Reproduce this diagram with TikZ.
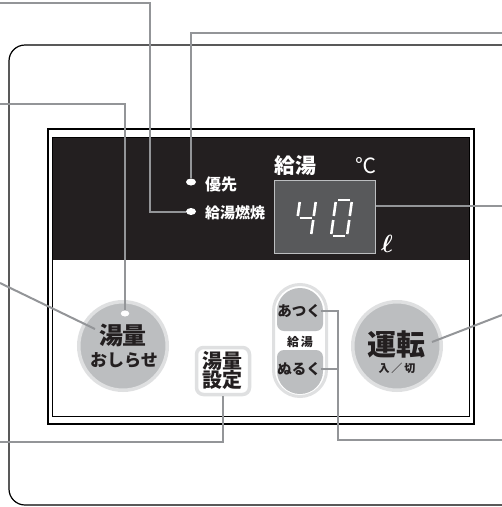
\documentclass[tikz,border=0pt]{standalone}
\usepackage{fontspec}
\newfontfamily\jp{Noto Sans CJK JP}
\usetikzlibrary{shapes.geometric}
\definecolor{band}{HTML}{231F20}
\definecolor{lead}{HTML}{939598}
\definecolor{btn}{HTML}{BCBEC0}
\definecolor{rim}{HTML}{DFE0E1}
\definecolor{disp}{HTML}{58595B}
\newcommand\segdx{295}
\newcommand\sseg[4]{\draw[segline] ({\segdx+#1+0.139*#2},{236-#2}) -- ({\segdx+#3+0.139*#4},{236-#4});}
\begin{document}
\begin{tikzpicture}[x=1pt,y=-1pt,
  leader/.style={draw=lead,line width=2pt},
  lbl/.style={font=\jp\bfseries,inner sep=0pt,text=band},
  wlbl/.style={font=\jp\bfseries,inner sep=0pt,text=white},
  segline/.style={draw=white,line width=2.6pt},
  ledstyle/.style={ellipse,fill=white,inner sep=0pt,minimum width=10pt,minimum height=7pt},
  roundbtn/.style={circle,fill=btn,draw=rim,line width=3.5pt,minimum size=88.5pt,inner sep=0pt}
]
\useasboundingbox (0,0) rectangle (502,507);
\clip (0,0) rectangle (502,507);
% outer panel
\draw[line width=1.2pt,rounded corners=16pt] (9,45) rectangle (517,505);
% frame
\draw[line width=1.3pt,fill=white] (48,129) rectangle (474,424);
\fill[band] (52,137) rectangle (469,260);
\draw[line width=0.8pt] (52,137) rectangle (469,416);
% display
\node[draw=btn,fill=disp,line width=0.8pt,minimum width=101pt,minimum height=73pt,inner sep=0pt,anchor=north west] (disp) at (274,180) {};
\renewcommand\segdx{295}
\sseg{0}{20}{0}{34}\sseg{2}{18}{14}{18}\sseg{16}{34}{16}{20}\sseg{16}{16}{16}{2}
\renewcommand\segdx{331}
\sseg{2}{36}{14}{36}\sseg{16}{34}{16}{20}\sseg{16}{16}{16}{2}
\sseg{2}{0}{14}{0}\sseg{0}{2}{0}{16}\sseg{0}{20}{0}{34}
\node[wlbl,font=\jp\bfseries\fontsize{21}{21}\selectfont] (kyuto) at (295,166) {給湯};
\node[wlbl,font=\jp\fontsize{21}{21}\selectfont] (deg) at (366,166) {℃};
\node[wlbl,font=\fontsize{23}{23}\selectfont\boldmath] (litre) at (387,244) {$\ell$};
% LEDs
\node[ledstyle] (ledA) at (191,182) {};
\node[ledstyle] (ledB) at (191,211.5) {};
\node[wlbl,anchor=west,font=\jp\bfseries\fontsize{16}{16}\selectfont] (yusen) at (205,184) {優先};
\node[wlbl,anchor=west,font=\jp\bfseries\fontsize{15}{15}\selectfont] (nensho) at (205,213) {給湯燃焼};
% oshirase button
\node[roundbtn] (oshirase) at (123,346) {};
\node[ledstyle,minimum width=8.5pt,minimum height=6pt] (ledC) at (125,313.5) {};
\node[lbl,font=\jp\bfseries\fontsize{24}{24}\selectfont] (yuryoA) at (123,335) {湯量};
\node[lbl,font=\jp\bfseries\fontsize{17}{17}\selectfont] (oshiraseT) at (124,360) {おしらせ};
% unten button
\node[roundbtn] (unten) at (397,346) {};
\node[lbl,font=\jp\bfseries\fontsize{29}{29}\selectfont] (untenT) at (396,344) {運転};
\node[lbl,font=\jp\bfseries\fontsize{11}{11}\selectfont] (irikiri) at (397,368) {入\,／\,切};
% settei button
\node[draw=rim,fill=white,line width=3.5pt,rounded corners=7pt,minimum width=53pt,minimum height=47pt,inner sep=0pt] (setbtn) at (223,371) {};
\node[lbl,font=\jp\bfseries\fontsize{20}{20}\selectfont] (yuryoB) at (222,361) {湯量};
\node[lbl,font=\jp\bfseries\fontsize{20}{20}\selectfont] (settei) at (222,380) {設定};
% pill
\draw[draw=rim,line width=3pt,fill=white,rounded corners=26.5pt] (273.5,284.5) rectangle (326.5,396.5);
\begin{scope}
\clip[rounded corners=23pt] (277,288) rectangle (323,394);
\fill[btn,rounded corners=7pt] (277,270) rectangle (323,331);
\fill[btn,rounded corners=7pt] (277,350) rectangle (323,412);
\end{scope}
\node[lbl,font=\jp\bfseries\fontsize{14.5}{14.5}\selectfont] (atsuku) at (299,311) {あつく};
\node[lbl,font=\jp\bfseries\fontsize{12}{12}\selectfont] (kyutoB) at (300,342) {給\,湯};
\node[lbl,font=\jp\bfseries\fontsize{14.5}{14.5}\selectfont] (nuruku) at (299,369) {ぬるく};
% leader coordinates
\coordinate (s1) at (0,3);
\coordinate (b1) at (150,3);
\coordinate (s2) at (502,33);
\coordinate (s3) at (0,104);
\coordinate (s4) at (0,283);
\coordinate (e4) at (95,329);
\coordinate (s5) at (0,442);
\coordinate (j6) at (338,440);
\coordinate (s6) at (502,440);
\coordinate (s7) at (502,206);
\coordinate (s8) at (502,315);
\coordinate (e8) at (432,342);
% leaders
\draw[leader] (s1) -- (b1) |- (ledB.west);
\draw[leader] (s2) -| (ledA.north);
\draw[leader] (s3) -| (ledC.north);
\draw[leader] (s4) -- (e4);
\draw[leader] (s5) -| (setbtn.south);
\draw[leader] (atsuku.east) -| (j6) -- (s6);
\draw[leader] (nuruku.east) -- (nuruku.east -| j6);
\draw[leader] (s7) -- (s7 -| disp.east);
\draw[leader] (s8) -- (e8);
\end{tikzpicture}
\end{document}
